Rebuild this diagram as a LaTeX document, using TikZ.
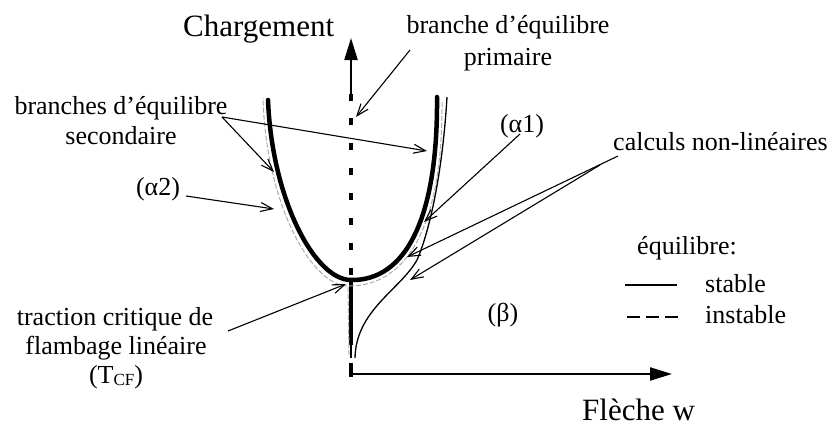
\documentclass[tikz,border=0pt]{standalone}
\usepackage{fontspec}
\setmainfont{Liberation Serif}
\usetikzlibrary{arrows.meta}
\begin{document}
\begin{tikzpicture}[x=1pt,y=-1pt,
  lbl/.style={font=\fontsize{26}{31}\selectfont, inner sep=0pt},
  big/.style={font=\fontsize{31}{36}\selectfont, inner sep=0pt},
  ptr/.style={line width=1.1pt, -{Straight Barb[length=12pt,width=9pt,line width=1.1pt]}},
  axis/.style={line width=2.2pt, -{Triangle[length=22pt,width=13pt]}},
  ubranch/.style={line width=4.5pt, line cap=round},
  numgray/.style={line width=1pt, gray!65, dash pattern=on 5pt off 2pt},
  numthin/.style={line width=1.3pt},
  dashaxis/.style={line width=4.5pt, dash pattern=on 7pt off 18pt}
]
\useasboundingbox (0,0) rectangle (834,428);
% coordinates
\coordinate (O) at (351,374);
\coordinate (Xend) at (672,374);
\coordinate (Ytop) at (351,38);
\coordinate (Ybase) at (351,100);
\coordinate (B) at (351,280);
\coordinate (UL) at (268,100);
\coordinate (UR) at (437,97);
% axes
\draw[axis] (O) -- (Xend);
\draw[axis] (Ybase) -- (Ytop);
\draw[line width=4.5pt] (351,94) -- (351,101);
\draw[line width=3.5pt] (351,363) -- (351,377);
\draw[dashaxis] (351,118) -- (B);
% solid primary branch below bifurcation
\draw[line width=4.5pt] (B) -- (351,345);
\draw[line width=2.5pt] (351,344) -- (351,358);
% numerical curves (gray)
\draw[numgray] (349,355) -- (348,286) .. controls (312,286) and (266,205) .. (263,98);
\draw[numgray] (349,286) .. controls (405,286) and (443,230) .. (442,100);
% secondary branch (thick U)
\draw[ubranch] (UL) .. controls (272,200) and (315,280) .. (B)
  .. controls (405,281) and (438,220) .. (UR);
% beta / alpha1 thin curve
\draw[numthin] (355,358) .. controls (356,310) and (400,290) .. (417,260)
  .. controls (428,235) and (442,180) .. (447,97);
% labels
\node[big, anchor=base west] (charg) at (183,37) {Chargement};
\node[big, anchor=base west] (fleche) at (582,420) {Flèche w};
\node[lbl, anchor=base] (prim1) at (508,34) {branche d’équilibre};
\node[lbl, anchor=base] (prim2) at (508,65) {primaire};
\node[lbl, anchor=base] (sec1) at (121,114) {branches d’équilibre};
\node[lbl, anchor=base] (sec2) at (121,144) {secondaire};
\node[lbl, anchor=base] (a1) at (522,132) {(α1)};
\node[lbl, anchor=base] (a2) at (158,195) {(α2)};
\node[lbl, anchor=base west] (calc) at (613,150) {calculs non-linéaires};
\node[lbl, anchor=base west] (equi) at (637,254) {équilibre:};
\node[lbl, anchor=base west] (stab) at (705,292) {stable};
\node[lbl, anchor=base west] (instab) at (705,323) {instable};
\node[lbl, anchor=base] (tr1) at (115,325) {traction critique de};
\node[lbl, anchor=base] (tr2) at (116,354) {flambage linéaire};
\node[lbl, anchor=base] (tr3) at (116,383) {(T\raisebox{-0.2ex}{\fontsize{17}{17}\selectfont CF})};
\node[lbl, anchor=base] (beta) at (503,321) {(β)};
% legend
\coordinate (ls1) at (625,285); \coordinate (ls2) at (677,285);
\coordinate (ld1) at (627,317); \coordinate (ld2) at (680,317);
\draw[line width=2.5pt] (ls1) -- (ls2);
\draw[line width=2.5pt, dash pattern=on 13pt off 6pt] (ld1) -- (ld2);
% pointer arrows
\coordinate (p1s) at (410,50);  \coordinate (p1e) at (356,117);
\coordinate (p2s) at (222,117); \coordinate (p2e) at (427,151); \coordinate (p3e) at (274,172);
\coordinate (p4s) at (186,196); \coordinate (p4e) at (274,209);
\coordinate (p5s) at (520,134); \coordinate (p5e) at (424,222);
\coordinate (p6s) at (618,156); \coordinate (p6e) at (407,257);
\coordinate (p7s) at (600,165); \coordinate (p7e) at (410,280);
\coordinate (p8s) at (228,331); \coordinate (p8e) at (346,284);
\draw[ptr] (p1s) -- (p1e);
\draw[ptr] (p2s) -- (p2e);
\draw[ptr] (p2s) -- (p3e);
\draw[ptr] (p4s) -- (p4e);
\draw[ptr] (p5s) -- (p5e);
\draw[ptr] (p6s) -- (p6e);
\draw[ptr] (p7s) -- (p7e);
\draw[ptr] (p8s) -- (p8e);
\end{tikzpicture}
\end{document}
